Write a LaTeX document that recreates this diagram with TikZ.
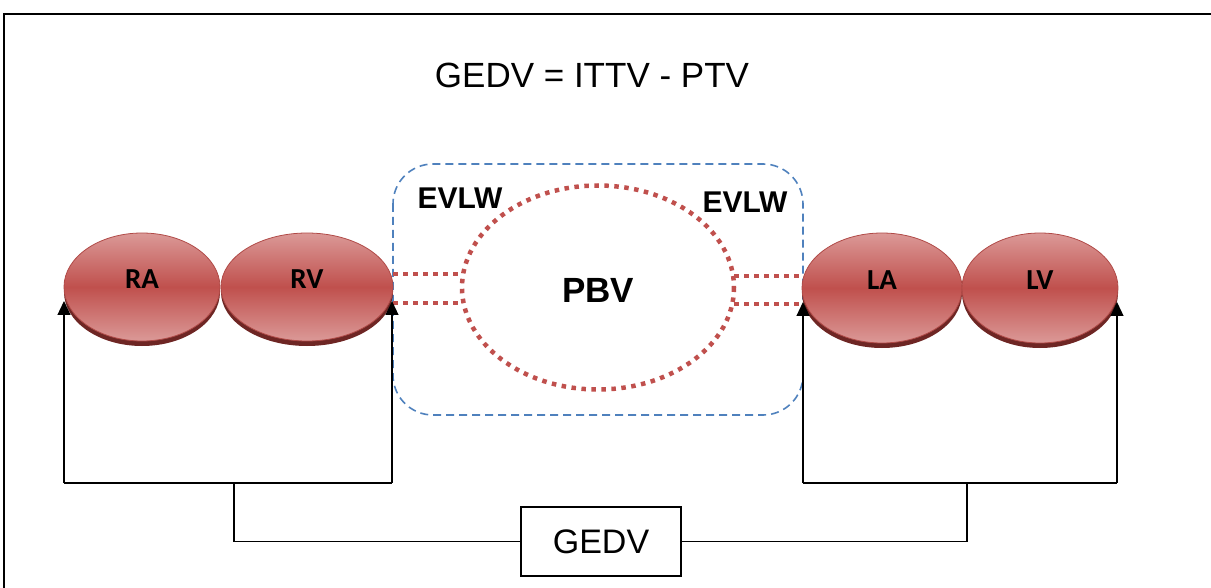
\documentclass[tikz,border=0pt]{standalone}
\usepackage{fontspec}
\setmainfont{Liberation Sans}
\newfontfamily\calib{Carlito}
\usetikzlibrary{shapes.geometric,arrows.meta}
\definecolor{hred}{HTML}{C0504D}
\definecolor{hlight}{HTML}{DB9997}
\definecolor{hborder}{HTML}{B04A47}
\definecolor{hshadow}{HTML}{6E2624}
\definecolor{hblue}{HTML}{4F81BD}
\tikzset{
  chamber/.style={ellipse,draw=hborder,line width=0.8pt,top color=hlight,bottom color=hlight,middle color=hred,inner sep=0pt},
  chamberlabel/.style={font=\calib\bfseries\fontsize{29}{29}\selectfont,inner sep=0pt},
  reddot/.style={draw=hred,line width=4.5pt,dash pattern=on 4.5pt off 5.5pt},
  bluedash/.style={draw=hblue,line width=1.6pt,dash pattern=on 8pt off 5pt,rounded corners=40pt},
  wire/.style={draw=black,line width=1.2pt},
  tip/.style={-{Triangle[width=13pt,length=14pt]},line width=1.2pt},
  boldlabel/.style={font=\bfseries\fontsize{30}{30}\selectfont,inner sep=0pt}
}
\begin{document}
\begin{tikzpicture}[x=1pt,y=-1pt]
\useasboundingbox (0,0) rectangle (1211,588);
% frame
\draw[line width=2pt] (4,600) -- (4,14) -- (1230,14);
% title
\node[font=\fontsize{35}{35}\selectfont,inner sep=0pt] (title) at (592,75) {GEDV = ITTV - PTV};
% blue dashed box
\draw[bluedash] (393,164) rectangle (803,415);
% shadows
\fill[hshadow] (142,292) ellipse [x radius=78, y radius=54];
\fill[hshadow] (307,292) ellipse [x radius=86, y radius=54];
\fill[hshadow] (882,293) ellipse [x radius=80, y radius=55];
\fill[hshadow] (1040,293) ellipse [x radius=78, y radius=55];
% chambers
\node[chamber,minimum width=156pt,minimum height=108pt] (ra) at (142,287) {};
\node[chamber,minimum width=172pt,minimum height=108pt] (rv) at (307,287) {};
\node[chamber,minimum width=160pt,minimum height=110pt] (la) at (882,288) {};
\node[chamber,minimum width=156pt,minimum height=110pt] (lv) at (1040,288) {};
\node[chamberlabel] (ral) at (142,279) {RA};
\node[chamberlabel] (rvl) at (307,279) {RV};
\node[chamberlabel] (lal) at (882,280) {LA};
\node[chamberlabel] (lvl) at (1040,280) {LV};
% PBV
\draw[reddot] (598,287.5) ellipse [x radius=136, y radius=102];
\node[inner sep=0pt,minimum width=272pt,minimum height=204pt] (pbv) at (598,287.5) {};
\node[boldlabel,font=\bfseries\fontsize{35}{35}\selectfont] (pbvl) at (598,290) {PBV};
\node[boldlabel] (evl1) at (460,198) {EVLW};
\node[boldlabel] (evl2) at (745,202) {EVLW};
% dotted connections
\draw[reddot] (rv.east |- 0,274) -- (pbv.west |- 0,274);
\draw[reddot] (rv.east |- 0,303) -- (pbv.west |- 0,303);
\draw[reddot] (pbv.east |- 0,276) -- (la.west |- 0,276);
\draw[reddot] (pbv.east |- 0,304) -- (la.west |- 0,304);
% GEDV box
\node[draw,line width=1.2pt,minimum width=160pt,minimum height=69pt,inner sep=0pt,font=\fontsize{34}{34}\selectfont] (gedv) at (601,541.5) {GEDV};
% junctions
\coordinate (lj) at (234,483);
\coordinate (rj) at (967,483);
\coordinate (lbl) at (64,483);
\coordinate (lbr) at (392,483);
\coordinate (rbl) at (803,483);
\coordinate (rbr) at (1117,483);
\coordinate (lt1) at (64,301);
\coordinate (lt2) at (392,301);
\coordinate (rt1) at (803,302);
\coordinate (rt2) at (1117,302);
% connectors
\draw[tip] (lbl) -- (lt1);
\draw[tip] (lbr) -- (lt2);
\draw[wire] (lbl) -- (lbr);
\draw[wire] (lj) |- (gedv.west);
\draw[tip] (rbl) -- (rt1);
\draw[tip] (rbr) -- (rt2);
\draw[wire] (rbl) -- (rbr);
\draw[wire] (rj) |- (gedv.east);
\end{tikzpicture}
\end{document}
